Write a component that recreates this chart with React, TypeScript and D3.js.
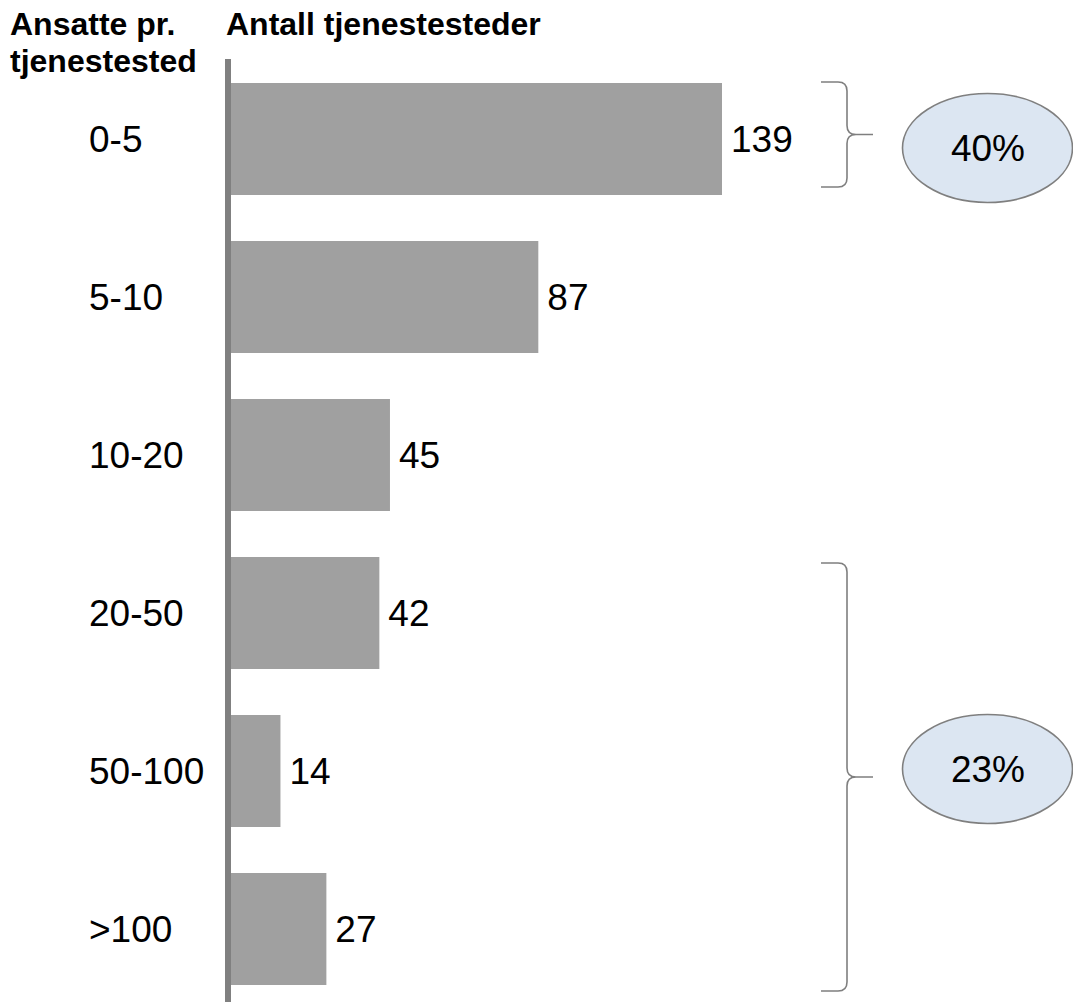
import React from "react";
import * as d3 from "d3";

const categories: string[] = ["0-5", "5-10", "10-20", "20-50", "50-100", ">100"];
const counts: number[] = [139, 87, 45, 42, 14, 27];
const groupLabels: string[] = ["40%", "23%"];
const groupFrom: string[] = ["0-5", "20-50"];
const groupTo: string[] = ["0-5", ">100"];
const headerLeft: string[] = ["Ansatte pr.", "tjenestested"];
const headerRight = "Antall tjenestesteder";

const W = 1073;
const H = 1002;
const FONT = "'Liberation Sans', Arial, Helvetica, sans-serif";

export default function App() {
  const x = d3.scaleLinear().domain([0, 139]).range([231, 722]);
  const step = 158;
  const y = d3
    .scaleBand<string>()
    .domain(categories)
    .range([60, 60 + step * categories.length])
    .paddingInner(46 / 158)
    .paddingOuter(23 / 158);
  const bw = y.bandwidth();

  // annotation geometry derived from band scale
  const topOffsets = [-1, 6];
  const botOffsets = [-8, 6];
  const ellipseShift = [13.5, -8];

  const bracketPath = (yt: number, yb: number) => {
    const xl = 821;
    const xv = 847;
    const xt = 873;
    const ym = (yt + yb) / 2;
    const r = 9;
    const p = d3.path();
    p.moveTo(xl, yt);
    p.lineTo(xv - r, yt);
    p.quadraticCurveTo(xv, yt, xv, yt + r);
    p.lineTo(xv, ym - r);
    p.quadraticCurveTo(xv, ym, xv + r, ym);
    p.lineTo(xt, ym);
    p.moveTo(xv + r, ym);
    p.quadraticCurveTo(xv, ym, xv, ym + r);
    p.lineTo(xv, yb - r);
    p.quadraticCurveTo(xv, yb, xv - r, yb);
    p.lineTo(xl, yb);
    return p.toString();
  };

  return (
    <svg
      width={W}
      height={H}
      style={{ position: "absolute", left: 0, top: 0, background: "#fff" }}
      fontFamily={FONT}
    >
      {/* headers */}
      {headerLeft.map((t, i) => (
        <text key={t} x={10} y={35 + i * 37} fontSize={32} fontWeight="bold" fill="#000">
          {t}
        </text>
      ))}
      <text x={226} y={35} fontSize={32} fontWeight="bold" fill="#000">
        {headerRight}
      </text>

      {/* bars */}
      {categories.map((c, i) => (
        <rect
          key={c}
          x={x(0)}
          y={y(c)!}
          width={x(counts[i]) - x(0)}
          height={bw}
          fill="#a0a0a0"
        />
      ))}

      {/* axis line */}
      <line x1={228} x2={228} y1={59} y2={H} stroke="#808080" strokeWidth={6} />

      {/* category labels */}
      {categories.map((c) => (
        <text key={c} x={89} y={y(c)! + bw / 2 + 13} fontSize={37} fill="#000">
          {c}
        </text>
      ))}

      {/* value labels */}
      {categories.map((c, i) => (
        <text key={c} x={x(counts[i]) + 9} y={y(c)! + bw / 2 + 13} fontSize={37} fill="#000">
          {counts[i]}
        </text>
      ))}

      {/* brackets and ellipses */}
      {groupLabels.map((lab, i) => {
        const yt = y(groupFrom[i])! + topOffsets[i];
        const yb = y(groupTo[i])! + bw + botOffsets[i];
        const ym = (yt + yb) / 2;
        const cy = ym + ellipseShift[i];
        return (
          <g key={lab}>
            <path d={bracketPath(yt, yb)} fill="none" stroke="#7f7f7f" strokeWidth={1.6} />
            <ellipse cx={987.5} cy={cy} rx={85} ry={54.5} fill="#dce6f2" stroke="#7f7f7f" strokeWidth={1.6} />
            <text x={988} y={cy + 13} fontSize={37} textAnchor="middle" fill="#000">
              {lab}
            </text>
          </g>
        );
      })}
    </svg>
  );
}
